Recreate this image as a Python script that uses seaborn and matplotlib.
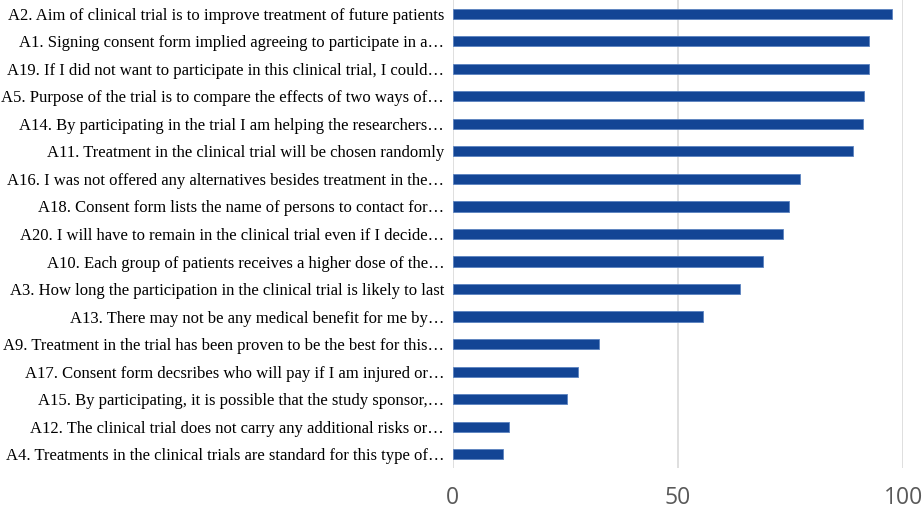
import matplotlib
matplotlib.use("Agg")
import matplotlib.pyplot as plt
import seaborn as sns
import pandas as pd

# items, top to bottom as shown
items = [
    "A2. Aim of clinical trial is to improve treatment of future patients",
    "A1. Signing consent form implied agreeing to participate in a\u2026",
    "A19. If I did not want to participate in this clinical trial, I could\u2026",
    "A5. Purpose of the trial is to compare the effects of two ways of\u2026",
    "A14. By participating in the trial I am helping the researchers\u2026",
    "A11. Treatment in the clinical trial will be chosen randomly",
    "A16. I was not offered any alternatives besides treatment in the\u2026",
    "A18. Consent form lists the name of persons to contact for\u2026",
    "A20. I will have to remain in the clinical trial even if I decide\u2026",
    "A10. Each group of patients receives a higher dose of the\u2026",
    "A3. How long the participation in the clinical trial is likely to last",
    "A13. There may not be any medical benefit for me by\u2026",
    "A9. Treatment in the trial has been proven to be the best for this\u2026",
    "A17. Consent form decsribes who will pay if I am injured or\u2026",
    "A15. By participating, it is possible that the study sponsor,\u2026",
    "A12. The clinical trial does not carry any additional risks or\u2026",
    "A4. Treatments in the clinical trials are standard for this type of\u2026",
]
values = [97.5, 92.5, 92.4, 91.2, 91.1, 88.8, 77.1, 74.7, 73.4, 68.8,
          63.7, 55.6, 32.6, 27.8, 25.3, 12.5, 11.3]
xticks = [0, 50, 100]

df = pd.DataFrame({"item": items, "value": values})

sns.set_style("white")

fig = plt.figure(figsize=(9.22, 5.09), dpi=100)
ax = fig.add_axes([0.4908, 0.0806, 0.4889, 0.9194])

sns.barplot(data=df, x="value", y="item", orient="h", width=0.37,
            color="#134595", edgecolor="#5b82c0", linewidth=0.6,
            saturation=1, ax=ax)

ax.set_xlim(0, 100)
ax.set_xticks(xticks)
ax.set_xlabel("")
ax.set_ylabel("")
for s in ax.spines.values():
    s.set_visible(False)
ax.grid(axis="x", color="#d9d9d9", linewidth=1.2)
ax.set_axisbelow(True)
ax.tick_params(axis="x", length=0, pad=13, labelsize=16.5, labelcolor="#595959")
ax.tick_params(axis="y", length=0, pad=6)
for lab in ax.get_yticklabels():
    lab.set_fontfamily("Liberation Serif")
    lab.set_fontsize(12.0)
    lab.set_color("#000000")
for lab in ax.get_xticklabels():
    lab.set_fontfamily("Open Sans")

fig.savefig("out.png", dpi=100)
